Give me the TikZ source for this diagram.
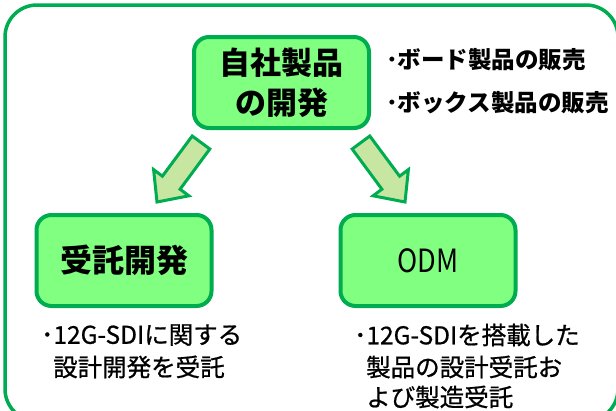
\documentclass[tikz,border=0pt]{standalone}
\usepackage{fontspec}
\setmainfont{Noto Sans CJK JP}
\newfontfamily\jpmed{Noto Sans CJK JP}[FakeBold=0.8]
\definecolor{gline}{RGB}{0,172,80}
\definecolor{boxfill}{RGB}{128,255,128}
\definecolor{arrfill}{RGB}{198,230,162}
\tikzset{
  greenbox/.style={draw=gline, line width=4pt, fill=boxfill, rounded corners=15pt,
    minimum width=175pt, minimum height=91pt, inner sep=0pt, align=center},
  blockarrow/.style={draw=gline, line width=3pt, fill=arrfill, line join=miter},
  frame/.style={draw=gline, line width=3.5pt, rounded corners=32pt},
  txt/.style={anchor=west, inner sep=0pt, text=black},
  bigtext/.style={font=\fontsize{31}{40}\selectfont\bfseries},
  bullettext/.style={font=\fontsize{23.5}{26}\selectfont\bfseries},
  smalltext/.style={font=\fontsize{24.5}{28}\selectfont\jpmed},
}
\begin{document}
\begin{tikzpicture}[x=1pt,y=-1pt]
\useasboundingbox (0,0) rectangle (616,410);
\fill[white] (0,0) rectangle (616,410);
\draw[frame] (5,5) rectangle (618,421);

% boxes
\node[greenbox, bigtext] (top) at (281.5,82.5) {自社製品\\の開発};
\node[greenbox, font=\fontsize{32}{36}\selectfont\bfseries] (left) at (124,260.5) {受託開発};
\node[greenbox, font=\fontsize{32}{36}\selectfont] (right) at (428,260.5) {\scalebox{0.85}[1]{ODM}};

% block arrows
\draw[blockarrow] (192.2,136) -- (209.8,149) -- (180.1,189.2) -- (188.9,195.8)
  -- (157,202) -- (153.6,169.6) -- (162.4,176.2) -- cycle;
\draw[blockarrow] (369.8,136) -- (352.2,149) -- (381.9,189.2) -- (373.1,195.8)
  -- (405,202) -- (408.4,169.6) -- (399.6,176.2) -- cycle;

% bullets top right
\node[txt, bullettext] (b1) at (386,60) {･ボード製品の販売};
\node[txt, bullettext] (b2) at (386,103) {･ボックス製品の販売};

% bottom left
\node[txt, smalltext] (l1) at (41,335) {･12G-SDIに関する};
\node[txt, smalltext] (l2) at (53,367) {設計開発を受託};

% bottom right
\node[txt, smalltext] (r1) at (354,335) {･12G-SDIを搭載した};
\node[txt, smalltext] (r2) at (366,367) {製品の設計受託お};
\node[txt, smalltext] (r3) at (366,397) {よび製造受託};
\end{tikzpicture}
\end{document}
